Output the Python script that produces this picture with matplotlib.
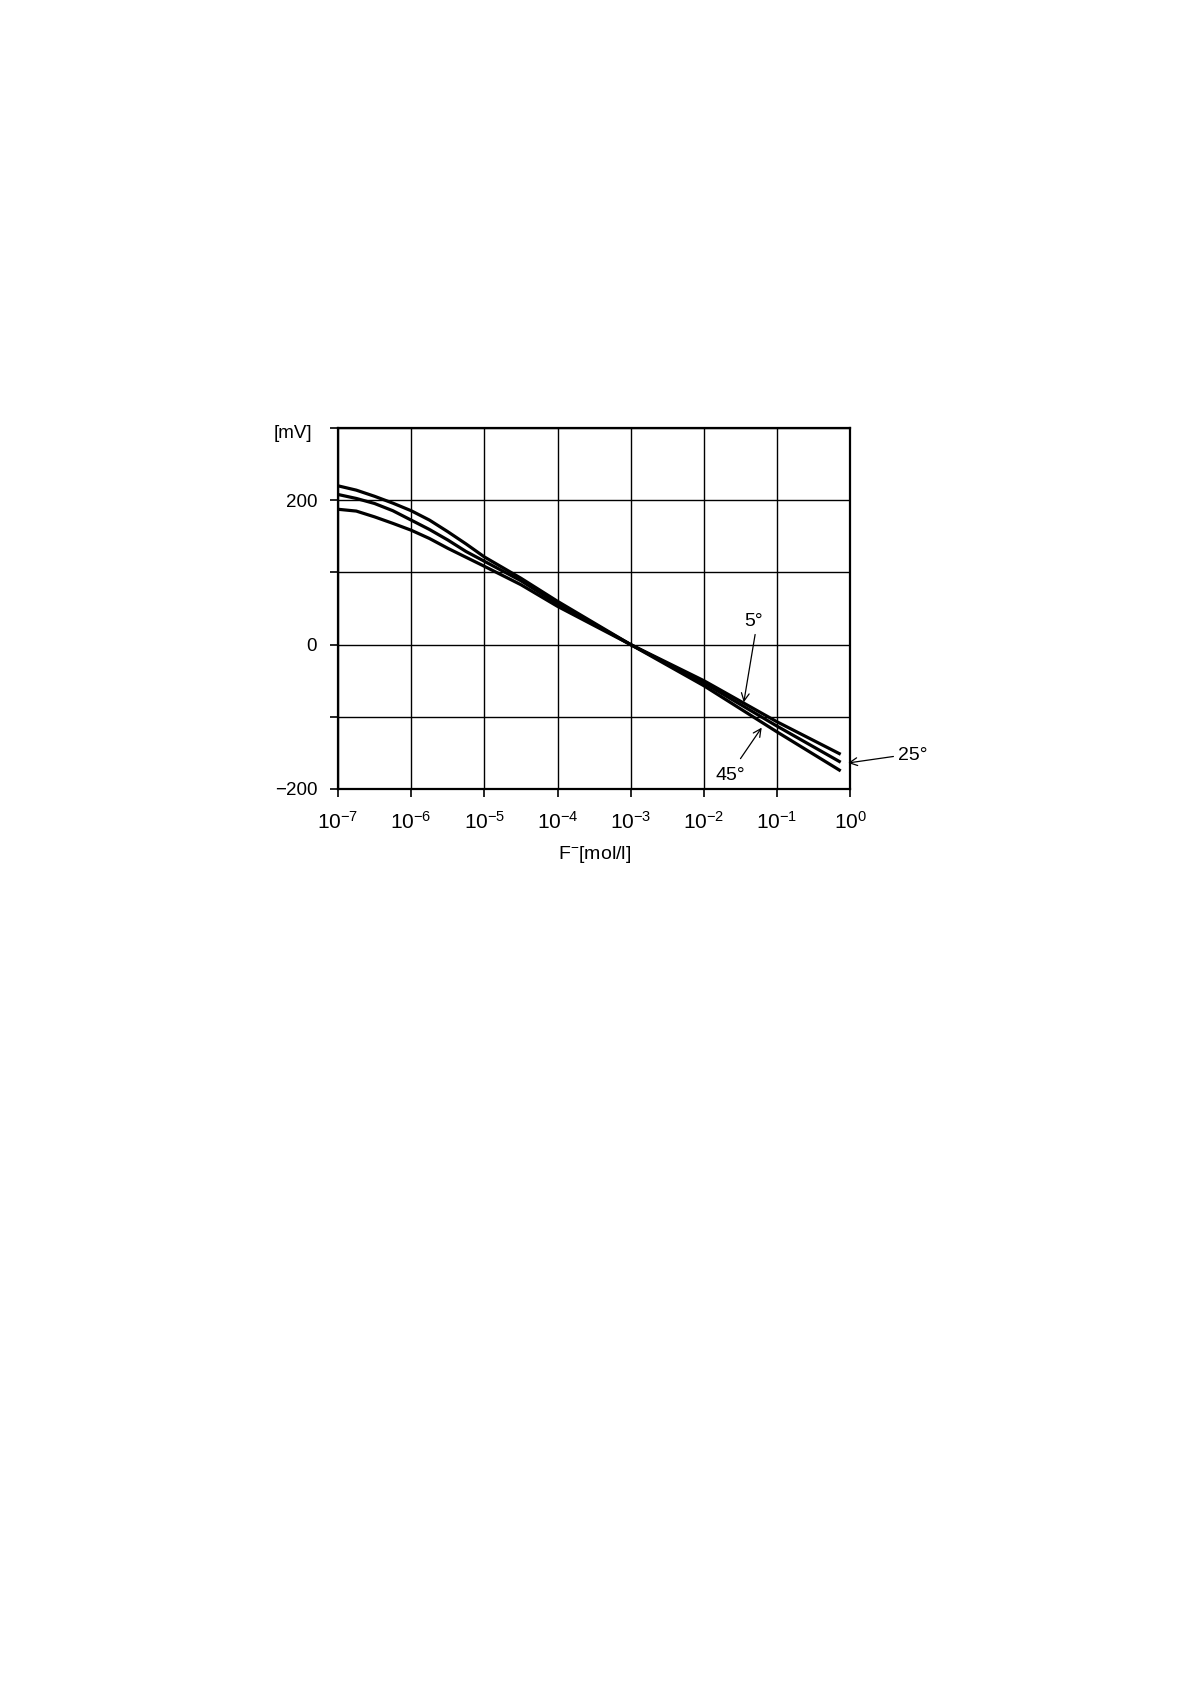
import matplotlib
matplotlib.use("Agg")
import matplotlib.pyplot as plt

plt.rcParams['font.family'] = ['Liberation Sans', 'DejaVu Sans']
plt.rcParams['mathtext.fontset'] = 'custom'
plt.rcParams['mathtext.rm'] = 'Liberation Sans'
plt.rcParams['mathtext.it'] = 'Liberation Sans:italic'
plt.rcParams['mathtext.default'] = 'regular'

# F- concentration (mol/l) and electrode potential (mV)
conc = [1e-7, 1.78e-7, 3.16e-7, 5.62e-7, 1e-6, 1.78e-6, 3.16e-6, 5.62e-6,
        1e-5, 3.16e-5, 1e-4, 3.16e-4, 1e-3, 1e-2, 1e-1, 0.74]
mv_45 = [220, 214, 205.5, 196, 185.5, 172.5, 156.5, 139.5,
         121.5, 92, 60, 30, 0, -57, -121, -175]
mv_25 = [208, 202.5, 195.5, 185.5, 172.5, 159.5, 145, 129,
         115.5, 88.5, 56.5, 28.5, 0, -53, -113, -163]
mv_5 = [187.5, 185, 177, 168, 158.5, 147, 133.5, 121,
        108.5, 83, 53, 26.5, 0, -50, -107, -152]

xticks = [1e-7, 1e-6, 1e-5, 1e-4, 1e-3, 1e-2, 1e-1, 1e0]
xtick_labels = [r'$10^{-7}$', r'$10^{-6}$', r'$10^{-5}$', r'$10^{-4}$',
                r'$10^{-3}$', r'$10^{-2}$', r'$10^{-1}$', r'$10^{0}$']
yticks = [-200, -100, 0, 100, 200, 300]
ytick_labels = ['\u2212200', '', '0', '', '200', '']

fig = plt.figure(figsize=(11.9, 16.84), dpi=100)
ax = fig.add_axes([0.284, 0.5315, 0.4305, 0.2143])

for y in yticks:
    ax.axhline(y, color='black', lw=1.0, zorder=1)
for x in xticks:
    ax.axvline(x, color='black', lw=1.0, zorder=1)

for vals in (mv_45, mv_25, mv_5):
    ax.plot(conc, vals, color='black', lw=2.3, zorder=3,
            solid_capstyle='butt', solid_joinstyle='round')

ax.set_xscale('log')
ax.set_xlim(1e-7, 1e0)
ax.set_ylim(-200, 300)
ax.set_xticks(xticks)
ax.set_xticklabels(xtick_labels)
ax.minorticks_off()
ax.set_yticks(yticks)
ax.set_yticklabels(ytick_labels)
ax.tick_params(axis='x', direction='out', length=6, width=1.2, pad=10, labelsize=15)
ax.tick_params(axis='y', direction='out', length=6, width=1.2, pad=9, labelsize=13.5)
for sp in ax.spines.values():
    sp.set_linewidth(1.6)

ax.text(-0.05, 0.985, '[mV]', transform=ax.transAxes, ha='right', va='center', fontsize=13.5)
ax.set_xlabel('F$^{-}$[mol/l]', fontsize=14, labelpad=8)

arrow = dict(arrowstyle='->', color='black', lw=0.9, shrinkA=0, shrinkB=0,
             mutation_scale=14)
ax.annotate('', xy=(10**-1.455, -80), xytext=(10**-1.30, 14), arrowprops=arrow)
ax.text(10**-1.32, 20, '5°', ha='center', va='bottom', fontsize=14)
ax.annotate('', xy=(10**-1.21, -115), xytext=(10**-1.50, -158), arrowprops=arrow)
ax.text(10**-1.64, -181, '45°', ha='center', va='center', fontsize=14)
ax.annotate('', xy=(10**-0.03, -164), xytext=(10**0.59, -155), arrowprops=arrow,
            annotation_clip=False)
ax.text(10**0.86, -154, '25°', ha='center', va='center', fontsize=14)

fig.savefig('out.png', dpi=100)
plt.close(fig)
